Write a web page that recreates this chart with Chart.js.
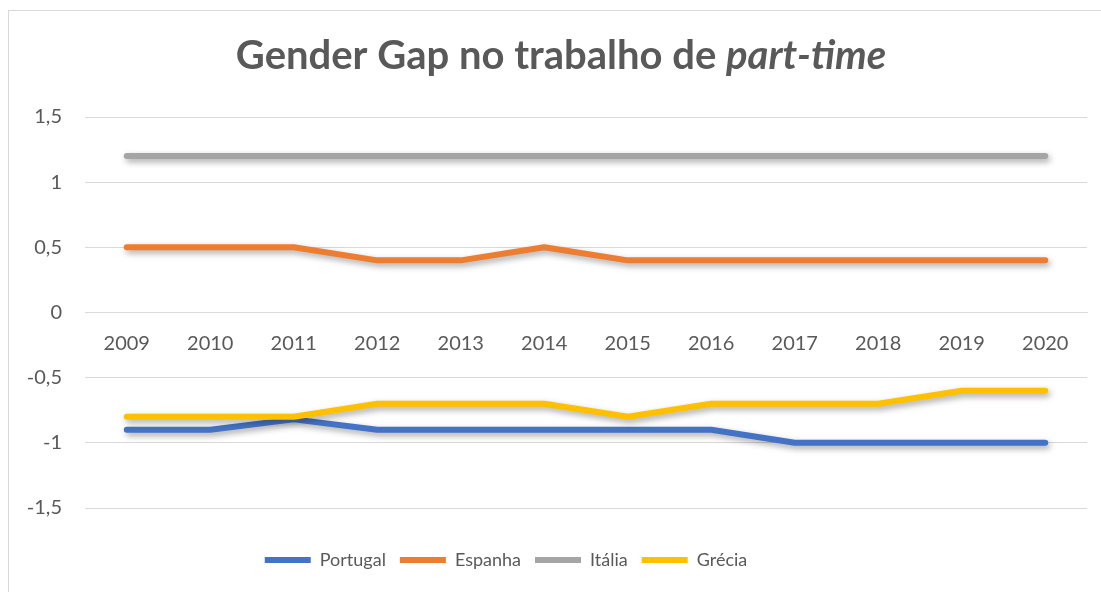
<!DOCTYPE html>
<html>
<head>
<meta charset="utf-8">
<script src="https://cdn.jsdelivr.net/npm/chart.js@4"></script>
<style>
  html, body { margin: 0; padding: 0; background: #fff; overflow: hidden; }
  .frame { position: absolute; left: 8px; top: 10px; width: 1200px; height: 700px; border: 1px solid #d9d9d9; }
  .wrap { position: absolute; left: 0; top: 0; width: 1101px; height: 592px; }
</style>
</head>
<body>
<div class="frame"></div>
<div class="wrap"><canvas id="chart"></canvas></div>
<script>
const years = ["2009", "2010", "2011", "2012", "2013", "2014", "2015", "2016", "2017", "2018", "2019", "2020"];
const portugal = [-0.9, -0.9, -0.82, -0.9, -0.9, -0.9, -0.9, -0.9, -1, -1, -1, -1];
const espanha = [0.5, 0.5, 0.5, 0.4, 0.4, 0.5, 0.4, 0.4, 0.4, 0.4, 0.4, 0.4];
const italia = [1.2, 1.2, 1.2, 1.2, 1.2, 1.2, 1.2, 1.2, 1.2, 1.2, 1.2, 1.2];
const grecia = [-0.8, -0.8, -0.8, -0.7, -0.7, -0.7, -0.8, -0.7, -0.7, -0.7, -0.6, -0.6];

const fontFamily = "Lato, 'Noto Sans', sans-serif";
const textColor = "#595959";

// title with an italic part, drawn on the canvas
const titlePlugin = {
  id: "mixedTitle",
  afterDraw(chart) {
    const ctx = chart.ctx;
    const a = "Gender Gap no trabalho de ";
    const b = "part-time";
    const size = 40;
    ctx.save();
    ctx.fillStyle = textColor;
    ctx.textBaseline = "alphabetic";
    ctx.font = "bold " + size + "px " + fontFamily;
    const wa = ctx.measureText(a).width;
    ctx.font = "italic bold " + size + "px " + fontFamily;
    const wb = ctx.measureText(b).width;
    const x = 561 - (wa + wb) / 2;
    ctx.font = "bold " + size + "px " + fontFamily;
    ctx.fillText(a, x, 69);
    ctx.font = "italic bold " + size + "px " + fontFamily;
    ctx.fillText(b, x + wa, 69);
    ctx.restore();
  }
};

// soft shadow under each line, like the office chart
const shadowPlugin = {
  id: "lineShadow",
  beforeDatasetDraw(chart) {
    const ctx = chart.ctx;
    ctx.save();
    ctx.shadowColor = "rgba(0,0,0,0.35)";
    ctx.shadowBlur = 6;
    ctx.shadowOffsetX = 2;
    ctx.shadowOffsetY = 3;
  },
  afterDatasetDraw(chart) {
    chart.ctx.restore();
  }
};

// legend in the reference sits a bit left of the middle
const legendShift = {
  id: "legendShift",
  afterLayout(chart) {
    const lg = chart.legend;
    lg.right = 1012;
    lg.width = lg.right - lg.left;
  }
};

const makeSet = (label, data, color, order) => ({
  label: label,
  data: data,
  borderColor: color,
  backgroundColor: color,
  borderWidth: 6,
  borderCapStyle: "round",
  borderJoinStyle: "round",
  pointRadius: 0,
  tension: 0,
  order: order
});

new Chart(document.getElementById("chart"), {
  type: "line",
  data: {
    labels: years,
    datasets: [
      makeSet("Portugal", portugal, "#4472C4", 3),
      makeSet("Espanha", espanha, "#ED7D31", 2),
      makeSet("Itália", italia, "#A5A5A5", 1),
      makeSet("Grécia", grecia, "#FFC000", 0)
    ]
  },
  options: {
    responsive: true,
    maintainAspectRatio: false,
    animation: false,
    layout: { padding: { top: 117, left: 0, right: 14, bottom: 13 } },
    plugins: {
      tooltip: { enabled: false },
      title: { display: false },
      legend: {
        position: "bottom",
        title: { display: true, text: " ", padding: { top: 8, bottom: 9 }, font: { size: 10 } },
        labels: {
          usePointStyle: true,
          pointStyle: "line",
          pointStyleWidth: 46,
          padding: 14,
          color: textColor,
          font: { family: fontFamily, size: 18 },
          sort: (a, b) => a.datasetIndex - b.datasetIndex
        }
      }
    },
    scales: {
      x: {
        position: { y: 0 },
        offset: true,
        grid: { display: false, drawTicks: false },
        border: { display: true, color: "#d9d9d9" },
        ticks: { color: textColor, padding: 19, font: { family: fontFamily, size: 20 }, maxRotation: 0 }
      },
      y: {
        min: -1.5,
        max: 1.5,
        afterFit: (s) => { s.width = 85; },
        grid: { color: "#d9d9d9", lineWidth: 1, drawTicks: false },
        border: { display: false },
        ticks: {
          stepSize: 0.5,
          padding: 23,
          color: textColor,
          font: { family: fontFamily, size: 20 },
          callback: (v) => String(v).replace(".", ",")
        }
      }
    }
  },
  plugins: [shadowPlugin, titlePlugin, legendShift]
});
</script>
</body>
</html>
